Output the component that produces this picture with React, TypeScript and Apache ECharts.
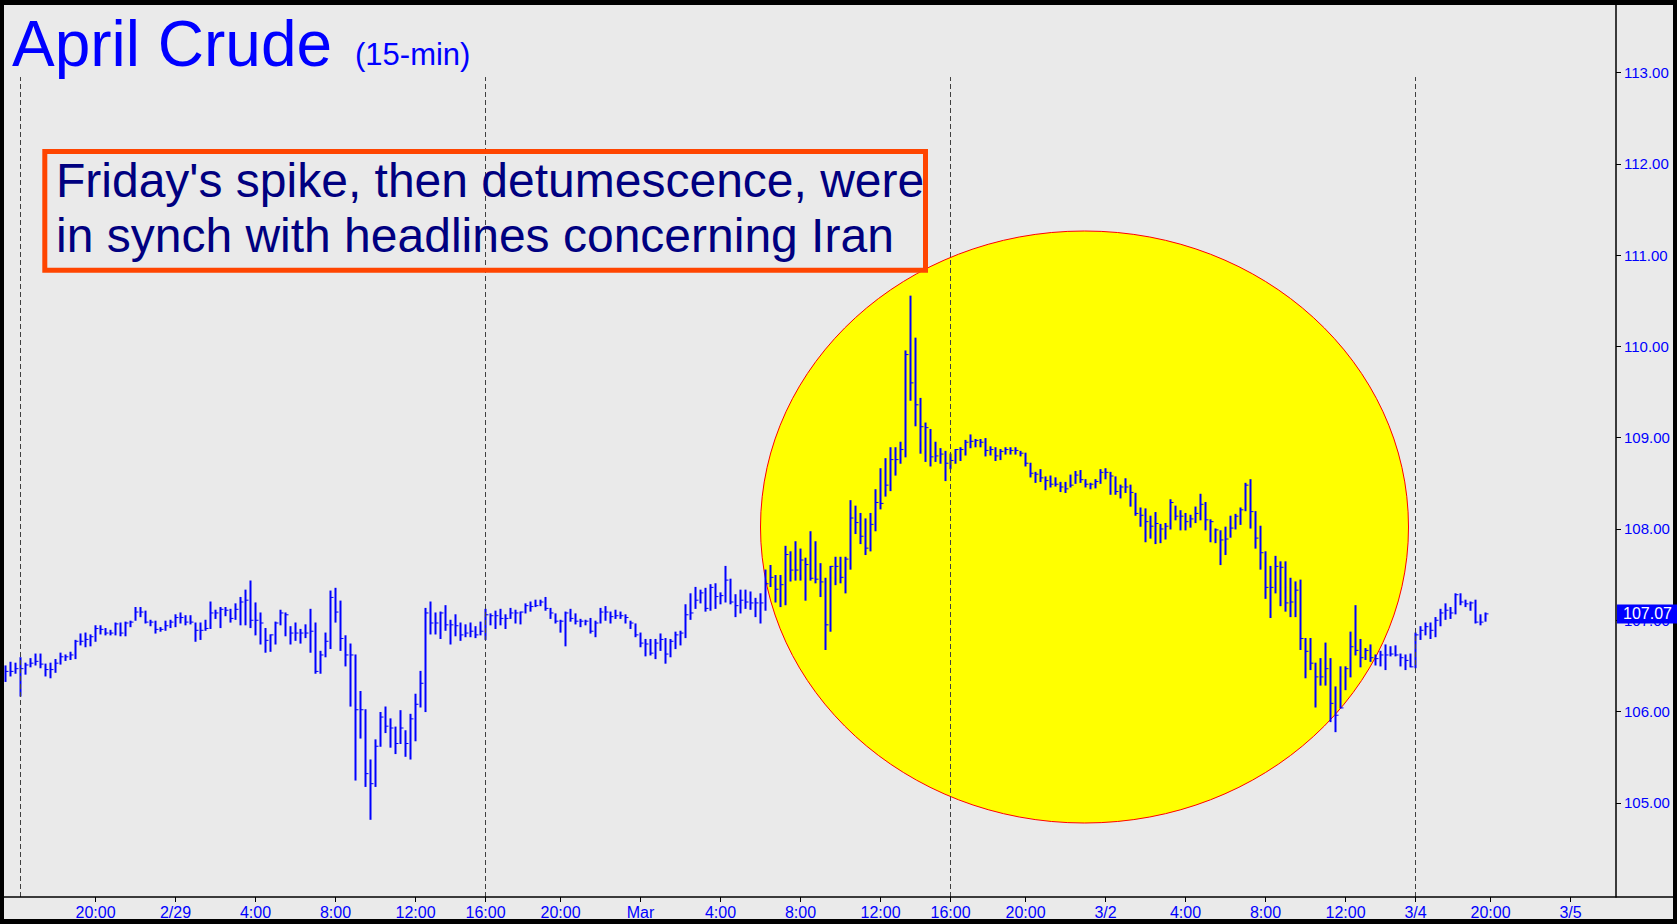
import React, { useEffect, useRef } from "react";
import * as echarts from "echarts";

// 15-minute OHLC bars (bar index = position in arrays)
const highs = [
  106.50,106.54,106.53,106.59,106.53,106.58,106.63,106.63,106.52,106.53,
  106.57,106.64,106.62,106.65,106.78,106.85,106.86,106.84,106.94,106.94,
  106.91,106.89,106.97,106.97,106.98,106.99,107.14,107.14,107.10,107.00,
  106.99,106.92,106.99,107.00,107.06,107.08,107.05,107.05,106.97,106.97,
  107.00,107.20,107.11,107.14,107.14,107.12,107.18,107.25,107.33,107.43,
  107.19,107.08,106.91,106.84,106.98,107.11,107.08,106.93,106.97,106.90,
  106.95,107.12,106.97,106.66,106.86,107.32,107.35,107.21,106.83,106.74,
  106.62,106.22,106.02,105.47,105.69,105.99,106.05,105.92,105.83,106.01,
  105.79,105.97,106.19,106.44,107.13,107.20,107.08,107.09,107.16,107.00,
  107.06,106.97,106.95,106.97,106.93,106.98,107.12,107.07,107.10,107.12,
  107.06,107.13,107.11,107.09,107.18,107.20,107.22,107.22,107.25,107.13,
  107.07,107.00,107.09,107.12,107.07,107.01,107.00,107.02,106.99,107.13,
  107.15,107.09,107.11,107.09,107.06,106.99,106.96,106.86,106.79,106.79,
  106.79,106.85,106.80,106.79,106.87,106.88,107.17,107.29,107.36,107.33,
  107.35,107.39,107.40,107.30,107.59,107.45,107.28,107.33,107.33,107.31,
  107.24,107.29,107.55,107.60,107.49,107.49,107.81,107.75,107.86,107.78,
  107.68,107.97,107.86,107.62,107.46,107.59,107.69,107.69,107.69,108.31,
  108.25,108.17,108.11,108.17,108.43,108.66,108.77,108.89,108.89,108.95,
  109.95,110.55,110.09,109.43,109.16,109.09,108.95,108.88,108.85,108.82,
  108.87,108.89,108.97,109.03,108.98,108.98,108.99,108.90,108.89,108.87,
  108.89,108.89,108.89,108.85,108.83,108.72,108.62,108.65,108.57,108.58,
  108.56,108.51,108.51,108.59,108.63,108.64,108.54,108.50,108.54,108.65,
  108.66,108.62,108.57,108.48,108.55,108.48,108.39,108.23,108.22,108.14,
  108.18,108.05,108.06,108.32,108.25,108.20,108.17,108.15,108.24,108.38,
  108.29,108.10,108.00,107.98,108.02,108.14,108.16,108.23,108.50,108.54,
  108.19,108.03,107.75,107.59,107.70,107.64,107.64,107.46,107.42,107.44,
  106.80,106.80,106.53,106.58,106.75,106.58,106.27,106.49,106.49,106.87,
  107.16,106.79,106.69,106.73,106.62,106.66,106.73,106.71,106.72,106.63,
  106.62,106.63,106.86,106.93,106.97,106.97,107.03,107.12,107.18,107.14,
  107.29,107.29,107.22,107.20,107.22,107.06,107.08
];

const lows = [
  106.33,106.39,106.42,106.17,106.41,106.49,106.51,106.48,106.39,106.37,
  106.43,106.52,106.56,106.57,106.58,106.73,106.71,106.72,106.77,106.85,
  106.84,106.84,106.84,106.83,106.83,106.93,107.00,107.04,106.97,106.94,
  106.86,106.88,106.89,106.92,106.93,106.97,106.95,106.96,106.77,106.79,
  106.89,106.91,107.02,106.92,107.05,106.98,107.01,106.95,106.95,106.92,
  106.84,106.74,106.65,106.66,106.74,106.95,106.83,106.74,106.78,106.75,
  106.81,106.65,106.42,106.42,106.60,106.69,106.98,106.67,106.50,106.06,
  105.25,105.71,105.18,104.82,105.18,105.62,105.77,105.61,105.54,105.65,
  105.51,105.48,105.68,106.05,106.00,106.85,106.85,106.80,106.89,106.74,
  106.83,106.78,106.82,106.82,106.81,106.84,106.79,106.95,106.91,106.95,
  106.91,107.02,106.97,106.96,107.08,107.10,107.15,107.16,107.11,107.02,
  106.97,106.87,106.72,106.99,106.96,106.93,106.95,106.86,106.82,106.97,
  107.00,106.97,107.02,107.02,106.97,106.91,106.82,106.71,106.61,106.62,
  106.58,106.67,106.53,106.60,106.69,106.73,106.81,107.01,107.13,107.19,
  107.10,107.11,107.13,107.18,107.20,107.18,107.04,107.08,107.13,107.12,
  107.04,106.97,107.11,107.37,107.20,107.15,107.17,107.43,107.44,107.44,
  107.22,107.44,107.41,107.26,106.68,106.88,107.39,107.41,107.30,107.56,
  107.95,107.84,107.72,107.76,107.98,108.22,108.36,108.42,108.59,108.72,
  108.79,109.41,109.13,108.83,108.74,108.69,108.74,108.72,108.53,108.66,
  108.72,108.75,108.81,108.89,108.90,108.90,108.80,108.81,108.75,108.76,
  108.82,108.82,108.82,108.80,108.69,108.57,108.51,108.52,108.43,108.46,
  108.47,108.41,108.40,108.46,108.50,108.51,108.46,108.44,108.45,108.50,
  108.55,108.38,108.38,108.34,108.40,108.25,108.15,108.03,107.86,107.90,
  107.84,107.85,107.89,108.00,108.10,107.99,107.99,108.02,108.07,108.10,
  107.99,107.86,107.85,107.61,107.72,107.91,108.00,108.05,108.20,108.01,
  107.79,107.56,107.24,107.03,107.30,107.16,107.10,107.04,107.04,106.68,
  106.37,106.46,106.05,106.29,106.29,105.89,105.78,106.04,106.24,106.38,
  106.62,106.49,106.57,106.55,106.51,106.50,106.46,106.61,106.61,106.50,
  106.46,106.49,106.48,106.79,106.84,106.80,106.82,106.94,107.01,107.02,
  107.07,107.17,107.15,107.11,106.97,106.95,106.99
];

const closes = [
  106.44,106.44,106.47,106.47,106.51,106.53,106.55,106.52,106.46,106.46,
  106.53,106.60,106.60,106.62,106.77,106.77,106.79,106.82,106.91,106.90,
  106.86,106.86,106.96,106.86,106.97,106.98,107.09,107.09,106.98,106.98,
  106.90,106.90,106.94,106.98,107.03,107.03,106.98,106.98,106.89,106.89,
  106.91,107.08,107.08,107.12,107.11,107.02,107.12,107.20,107.22,107.00,
  107.00,106.97,106.78,106.84,106.97,107.08,107.06,106.86,106.86,106.86,
  106.86,106.88,106.44,106.62,106.77,107.25,107.09,106.80,106.62,106.62,
  106.02,106.02,105.32,105.21,105.62,105.94,105.84,105.82,105.65,105.82,
  105.65,105.92,106.08,106.31,107.08,106.97,106.97,107.08,106.95,106.95,
  106.94,106.84,106.86,106.88,106.84,106.88,107.06,107.05,107.05,107.02,
  107.02,107.08,107.08,107.09,107.16,107.15,107.16,107.20,107.13,107.08,
  106.99,106.99,107.08,107.02,106.99,106.99,106.99,106.88,106.97,107.09,
  107.09,107.04,107.05,107.05,107.03,106.97,106.84,106.75,106.74,106.64,
  106.75,106.79,106.63,106.77,106.84,106.86,107.06,107.08,107.22,107.30,
  107.13,107.36,107.26,107.27,107.44,107.20,107.16,107.22,107.20,107.19,
  107.19,107.19,107.40,107.47,107.34,107.39,107.72,107.55,107.55,107.66,
  107.61,107.46,107.45,107.42,106.95,107.59,107.59,107.47,107.67,108.12,
  108.07,107.92,107.79,108.05,108.29,108.28,108.48,108.76,108.76,108.87,
  109.91,109.60,109.36,109.12,109.11,108.79,108.80,108.82,108.72,108.75,
  108.87,108.87,108.95,108.96,108.97,108.95,108.86,108.87,108.80,108.85,
  108.87,108.86,108.86,108.83,108.72,108.61,108.60,108.56,108.53,108.49,
  108.49,108.46,108.44,108.48,108.59,108.54,108.49,108.49,108.52,108.62,
  108.62,108.58,108.41,108.46,108.46,108.40,108.17,108.15,108.08,108.03,
  108.06,108.00,108.03,108.29,108.14,108.14,108.08,108.11,108.17,108.27,
  108.10,108.08,107.99,107.88,107.89,108.01,108.14,108.21,108.48,108.19,
  107.90,107.74,107.36,107.36,107.59,107.58,107.19,107.20,107.33,106.80,
  106.66,106.53,106.38,106.38,106.47,106.09,105.96,106.04,106.47,106.71,
  106.67,106.59,106.67,106.59,106.58,106.62,106.62,106.63,106.62,106.59,
  106.56,106.49,106.84,106.89,106.93,106.89,107.00,107.08,107.11,107.08,
  107.28,107.20,107.18,107.19,106.98,106.98,107.07
];

// session starts (bar index) -> dashed separators
const sessionStarts = [3, 96, 189, 282];

// time-axis ticks (bar index) and their labels
const xTickPositions = [18, 34, 50, 66, 82, 96, 111, 127, 143, 159, 175, 189, 204, 220, 236, 252, 268, 282, 297, 313];
const xTickLabels = ["20:00", "2/29", "4:00", "8:00", "12:00", "16:00", "20:00", "Mar", "4:00", "8:00", "12:00", "16:00", "20:00", "3/2", "4:00", "8:00", "12:00", "3/4", "20:00", "3/5"];

const priceTicks = [105, 106, 107, 108, 109, 110, 111, 112, 113];
const lastPrice = 107.07;

const titleText = "April Crude";
const subTitleText = "(15-min)";
const noteLines = ["Friday's spike, then detumescence, were", "in synch with headlines concerning Iran"];

const FONT = "'Liberation Sans', Arial, Helvetica, sans-serif";
const X_MIN = -0.3;
const X_MAX = 322.1;
const Y_MIN = 103.969;
const Y_MAX = 113.739;
const SEP_TOP = 112.95;

export default function App() {
  const ref = useRef<HTMLDivElement>(null);

  useEffect(() => {
    if (!ref.current) return;
    const chart = echarts.init(ref.current, null, { renderer: "svg" });

    const bars = highs.map((h, i) => [i, h, lows[i], closes[i]]);

    const option: any = {
      animation: false,
      backgroundColor: "#000000",
      grid: { left: 4, right: 61, top: 5, bottom: 27, containLabel: false },
      xAxis: {
        type: "value",
        min: X_MIN,
        max: X_MAX,
        axisLine: { show: false, onZero: false },
        splitLine: { show: false },
        axisTick: {
          show: true,
          customValues: xTickPositions,
          length: 5,
          lineStyle: { color: "#000", width: 1 },
        },
        axisLabel: {
          show: true,
          customValues: xTickPositions,
          formatter: (v: number) => {
            const i = xTickPositions.indexOf(v);
            return i >= 0 ? xTickLabels[i] : "";
          },
          color: "#0000ff",
          fontSize: 16,
          fontFamily: FONT,
          margin: 7,
          hideOverlap: false,
        },
      },
      yAxis: {
        type: "value",
        position: "right",
        min: Y_MIN,
        max: Y_MAX,
        scale: true,
        splitLine: { show: false },
        axisLine: { show: true, onZero: false, lineStyle: { color: "#000", width: 1.5 } },
        axisTick: {
          show: true,
          customValues: priceTicks,
          length: 5,
          lineStyle: { color: "#000", width: 1 },
        },
        axisLabel: {
          show: true,
          customValues: priceTicks,
          formatter: (v: number) => v.toFixed(2),
          color: "#0000ff",
          fontSize: 15,
          fontFamily: FONT,
          margin: 8,
        },
      },
      graphic: [
        {
          type: "rect",
          silent: true,
          z: -10,
          shape: { x: 4, y: 5, width: 1669, height: 914 },
          style: { fill: "#eaeaea" },
        },
        {
          type: "ellipse",
          silent: true,
          z: -5,
          shape: { cx: 1084.5, cy: 527, rx: 324, ry: 296 },
          style: { fill: "#ffff00", stroke: "#ff0000", lineWidth: 1 },
        },
        {
          type: "line",
          silent: true,
          z: 10,
          shape: { x1: 4, y1: 897, x2: 1673, y2: 897 },
          style: { stroke: "#000", lineWidth: 1.5 },
        },
        {
          type: "text",
          z: 100,
          x: 12,
          y: 43.5,
          style: {
            text: titleText,
            fill: "#0000ff",
            fontSize: 64,
            fontFamily: FONT,
            verticalAlign: "middle",
            textVerticalAlign: "middle",
          },
        },
        {
          type: "text",
          z: 100,
          x: 355,
          y: 54.8,
          style: {
            text: subTitleText,
            fill: "#0000ff",
            fontSize: 31,
            fontFamily: FONT,
            verticalAlign: "middle",
            textVerticalAlign: "middle",
          },
        },
        {
          type: "rect",
          z: 100,
          silent: true,
          shape: { x: 44.8, y: 151.5, width: 880.7, height: 118.7 },
          style: { fill: "none", stroke: "#ff4500", lineWidth: 5 },
        },
        {
          type: "text",
          z: 100,
          x: 56,
          y: 180.1,
          style: {
            text: noteLines[0],
            fill: "#000080",
            fontSize: 48,
            fontFamily: FONT,
            verticalAlign: "middle",
            textVerticalAlign: "middle",
          },
        },
        {
          type: "text",
          z: 100,
          x: 56,
          y: 235.1,
          style: {
            text: noteLines[1],
            fill: "#000080",
            fontSize: 48,
            fontFamily: FONT,
            verticalAlign: "middle",
            textVerticalAlign: "middle",
          },
        },
      ],
      series: [
        {
          type: "custom",
          name: "April Crude",
          data: bars,
          encode: { x: 0, y: [1, 2, 3] },
          clip: false,
          renderItem: (params: any, api: any) => {
            const k = api.value(0);
            const pH = api.coord([k, api.value(1)]);
            const pL = api.coord([k, api.value(2)]);
            const pC = api.coord([k, api.value(3)]);
            return {
              type: "group",
              children: [
                {
                  type: "line",
                  shape: { x1: pH[0], y1: pH[1] - 0.5, x2: pL[0], y2: pL[1] + 0.5 },
                  style: { stroke: "#0000ff", lineWidth: 2 },
                },
                {
                  type: "line",
                  shape: { x1: pC[0], y1: pC[1], x2: pC[0] + 3, y2: pC[1] },
                  style: { stroke: "#0000ff", lineWidth: 1 },
                },
              ],
            };
          },
          markLine: {
            silent: true,
            symbol: "none",
            animation: false,
            data: [
              ...sessionStarts.map((k) => [
                {
                  coord: [k, Y_MIN],
                  lineStyle: { type: [5, 3], color: "#404040", width: 1 },
                  label: { show: false },
                },
                { coord: [k, SEP_TOP] },
              ]),
              {
                yAxis: lastPrice,
                lineStyle: { color: "rgba(0,0,0,0)", width: 0, opacity: 1 },
                label: {
                  show: true,
                  position: "end",
                  distance: 1,
                  opacity: 1,
                  formatter: lastPrice.toFixed(2),
                  color: "#ffffff",
                  backgroundColor: "#0000ff",
                  fontSize: 16,
                  fontFamily: FONT,
                  padding: [2, 6, 1, 6],
                },
              },
            ],
          },
        },
      ],
    };

    chart.setOption(option);
    return () => {
      chart.dispose();
    };
  }, []);

  return (
    <div
      ref={ref}
      style={{ position: "fixed", left: 0, top: 0, width: 1677, height: 924 }}
    />
  );
}
